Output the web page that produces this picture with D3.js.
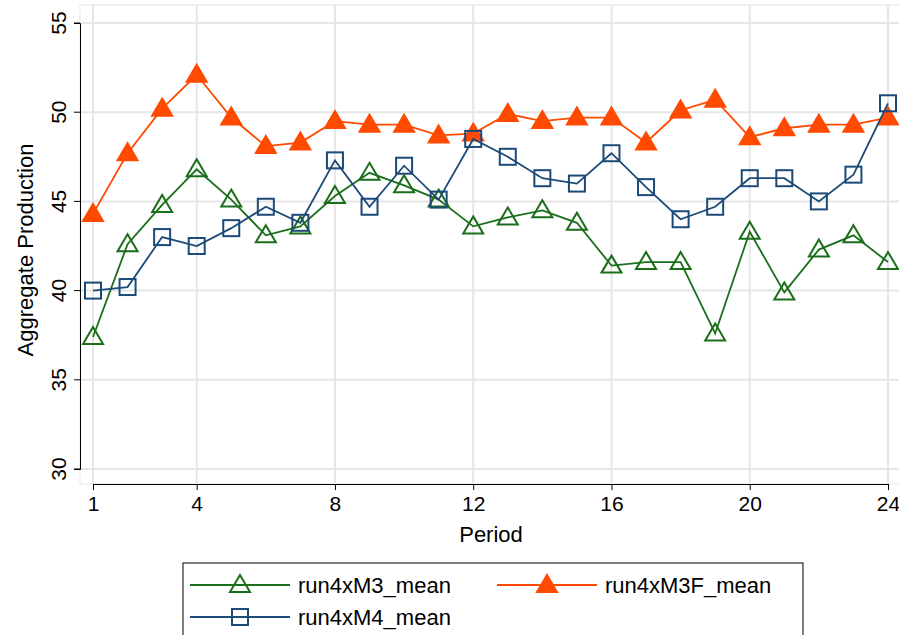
<!DOCTYPE html>
<html><head><meta charset="utf-8">
<script src="https://cdn.jsdelivr.net/npm/d3@7"></script>
<style>body{margin:0;background:#fff}svg{font-family:Arial,"Liberation Sans",sans-serif}</style>
</head><body><svg width="899" height="635"></svg>
<script>
let periods = d3.range(1, 25);
let m3 = [37.4,42.6,44.8,46.8,45.1,43.1,43.6,45.3,46.6,45.9,45.1,43.6,44.1,44.5,43.8,41.4,41.6,41.6,37.6,43.3,39.9,42.3,43.1,41.6];
let m3f = [44.3,47.7,50.2,52.1,49.7,48.1,48.3,49.5,49.3,49.3,48.7,48.8,49.9,49.5,49.7,49.7,48.3,50.1,50.7,48.6,49.1,49.3,49.3,49.7];
let m4 = [40.0,40.2,43.0,42.5,43.5,44.7,43.8,47.3,44.7,47.0,45.1,48.5,47.5,46.3,46.0,47.7,45.8,44.0,44.7,46.3,46.3,45.0,46.5,50.5];
let xTicks = [1,4,8,12,16,20,24];
let yTicks = [30,35,40,45,50,55];

let svg = d3.select("svg");
let x = d3.scaleLinear().domain([1,24]).range([93,888]);
let y = d3.scaleLinear().domain([30,55]).range([469,23]);

// plot region
svg.append("rect").attr("x",80).attr("y",5).attr("width",822).attr("height",479)
  .attr("fill","#fff").attr("stroke","#e6e6e6");
svg.append("g").selectAll("line").data(yTicks).join("line")
  .attr("x1",80).attr("x2",902).attr("y1",d=>y(d)).attr("y2",d=>y(d))
  .attr("stroke","#e6e6e6").attr("stroke-width",2);
svg.append("g").selectAll("line").data(xTicks).join("line")
  .attr("y1",5).attr("y2",484).attr("x1",d=>x(d)).attr("x2",d=>x(d))
  .attr("stroke","#e6e6e6").attr("stroke-width",2);

// axes
let xa = svg.append("g").attr("transform","translate(0,484)")
  .call(d3.axisBottom(x).tickValues(xTicks).tickSize(6).tickFormat(d3.format("d")));
xa.selectAll("text").attr("font-size",21).attr("fill","#000").attr("dy","0.85em");
let ya = svg.append("g").attr("transform","translate(80,0)")
  .call(d3.axisLeft(y).tickValues(yTicks).tickSize(6));
ya.selectAll("text").attr("font-size",21).attr("fill","#000")
  .attr("transform",d=>"rotate(-90,-14,"+y(d)+")").attr("x",-14).attr("dy",0)
  .attr("y",d=>y(d)).attr("text-anchor","middle");
ya.selectAll(".tick").attr("transform",null);
ya.selectAll(".tick line").attr("y1",d=>y(d)).attr("y2",d=>y(d));
svg.selectAll(".domain,.tick line").attr("stroke","#000");

svg.append("text").attr("x",491).attr("y",542).attr("text-anchor","middle").attr("font-size",22).text("Period");
svg.append("text").attr("transform","translate(33,250) rotate(-90)").attr("text-anchor","middle")
  .attr("font-size",22).text("Aggregate Production");

let series = [
  {name:"run4xM3_mean", vals:m3, color:"#1a6e1a", sym:"tri", fill:"none"},
  {name:"run4xM3F_mean", vals:m3f, color:"#ff4a00", sym:"tri", fill:"#ff4a00"},
  {name:"run4xM4_mean", vals:m4, color:"#1c4a78", sym:"sq", fill:"none"}
];
let line = d3.line().x((d,i)=>x(periods[i])).y(d=>y(d));
function sym(g,s,cx,cy){
  if(s.sym=="tri"){
    g.append("path").attr("d",`M${cx},${cy-10}L${cx+10},${cy+7}L${cx-10},${cy+7}Z`)
      .attr("fill",s.fill).attr("stroke",s.color).attr("stroke-width",2);
  } else {
    g.append("rect").attr("x",cx-8).attr("y",cy-8).attr("width",16).attr("height",16)
      .attr("fill","none").attr("stroke",s.color).attr("stroke-width",2);
  }
}
series.forEach(s=>{
  svg.append("path").datum(s.vals).attr("d",line).attr("fill","none").attr("stroke",s.color).attr("stroke-width",1.8);
  let g = svg.append("g");
  s.vals.forEach((v,i)=>sym(g,s,x(periods[i]),y(v)));
});

// legend
svg.append("rect").attr("x",183).attr("y",563).attr("width",620).attr("height",80).attr("fill","#fff").attr("stroke","#000");
let lpos = [[190,585],[497,585],[190,617]];
[series[0],series[1],series[2]].forEach((s,i)=>{
  let [lx,ly]=lpos[i];
  let g=svg.append("g");
  g.append("line").attr("x1",lx).attr("x2",lx+100).attr("y1",ly).attr("y2",ly).attr("stroke",s.color).attr("stroke-width",1.8);
  sym(g,s,lx+50,ly);
  g.append("text").attr("x",lx+108).attr("y",ly+8).attr("font-size",22).text(s.name);
});
</script></body></html>
